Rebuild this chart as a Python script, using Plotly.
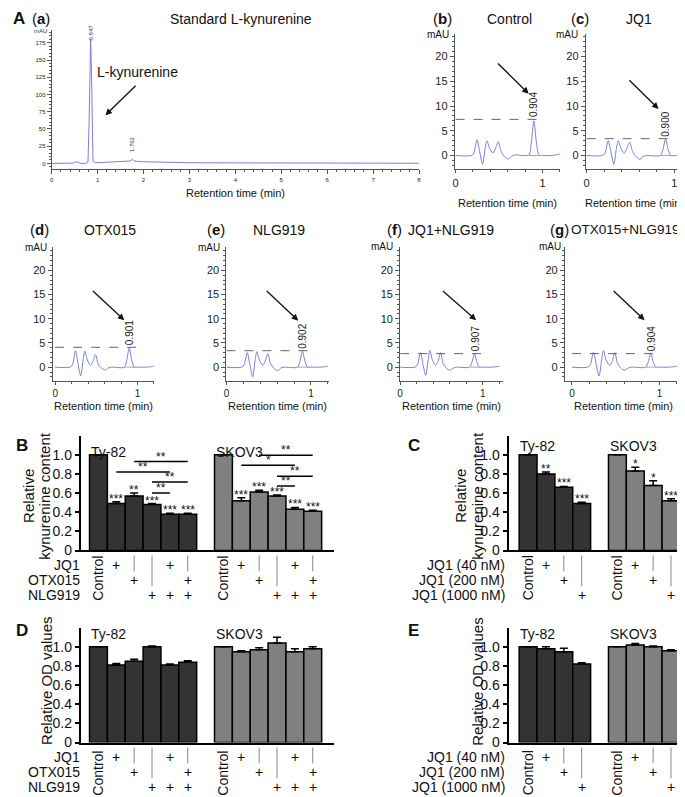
import plotly.graph_objects as go

W, H = 685, 797
FONT = "Liberation Sans, Arial, sans-serif"
TRACE = "#7b7fdc"
AXC = "#555555"

# ---------------- chromatogram data ----------------
std_time = [0, 0.2, 0.25, 0.3, 0.45, 0.5, 0.55, 0.6, 0.66, 0.75, 0.79, 0.815, 0.83, 0.847, 0.865, 0.88,
            0.9, 0.95, 1.1, 1.4, 1.6, 1.7, 1.74, 1.762, 1.79, 1.85, 2.0, 2.5, 3.0, 4.0, 5.0, 6.0, 7.0, 8.0]
std_mau = [0, 0, 1, 0, 0.5, 1.5, 2.5, 1, -0.5, 0.5, 2, 60, 150, 180, 140, 40,
           3, 1, 1.5, 3, 3.5, 3.5, 5, 6, 4, 3, 2.5, 1.5, 1, 0.8, 0.6, 0.5, 0.4, 0.3]
std_peak_rt = [0.847, 1.762]
std_peak_text = ["0.847", "1.762"]
std_peak_label_mau = [175, 13]

sample_time = [0, 0.18, 0.21, 0.246, 0.28, 0.31, 0.34, 0.36, 0.39, 0.43, 0.46, 0.49, 0.52, 0.55,
               0.58, 0.61, 0.64, 0.68, 0.84, 0.87, 0.9, 0.93, 0.96, 1.0, 1.1, 1.17, 1.2]
mau_control = [0, 0, 0.5, 3.2, 0.5, -1.8, 1.5, 3.0, 1.5, 0.5, 1.5, 2.8, 1.0, 0,
               -0.5, -0.7, -0.2, 0.1, 0.1, 2.5, 7.0, 2.5, 0.1, 0, 0, 0.2, 0.3]
mau_jq1 = [0, 0, 0.5, 3.0, 0.5, -1.8, 1.5, 3.0, 1.5, 0.5, 1.5, 2.7, 1.0, 0,
           -0.5, -0.8, -0.2, 0.0, 0.0, 1.2, 3.3, 1.2, 0.0, 0, 0, 0.2, 0.3]
mau_otx015 = [0, 0, 0.5, 3.4, 0.5, -1.8, 1.5, 3.3, 1.5, 0.4, 1.2, 2.6, 0.8, 0,
              -0.4, -0.6, -0.2, 0.0, 0.0, 1.5, 4.0, 1.5, 0.0, 0, 0, 0.1, 0.2]
mau_nlg919 = [0, 0, 0.5, 3.0, 0.3, -2.0, 1.5, 3.2, 1.5, 0.4, 1.3, 2.8, 0.8, 0,
              -0.5, -0.7, -0.2, 0.0, 0.0, 1.2, 3.3, 1.2, 0.0, 0, 0, 0.1, 0.2]
mau_jq1_nlg919 = [0, 0, 0.5, 3.0, 0.3, -1.7, 1.6, 3.5, 1.5, 0.4, 1.2, 3.0, 0.8, 0,
                  -0.5, -0.6, -0.2, 0.0, 0.0, 1.0, 2.8, 1.0, 0.0, 0, 0, 0.1, 0.2]
mau_otx015_nlg919 = [0, 0, 0.5, 3.1, 0.3, -1.8, 1.6, 3.4, 1.5, 0.4, 1.2, 3.0, 0.8, 0,
                     -0.5, -0.6, -0.2, 0.0, 0.0, 1.0, 2.8, 1.0, 0.0, 0, 0, 0.1, 0.2]

sample_titles = ["Control", "JQ1", "OTX015", "NLG919", "JQ1+NLG919", "OTX015+NLG919"]
sample_letters = ["b", "c", "d", "e", "f", "g"]
sample_rt_text = ["0.904", "0.900", "0.901", "0.902", "0.907", "0.904"]
sample_peak_rt = [0.904, 0.900, 0.901, 0.902, 0.907, 0.904]
sample_dash_level = [7.3, 3.4, 4.1, 3.4, 2.8, 2.8]
arrow_start_t = [0.47, 0.47, 0.44, 0.46, 0.50, 0.46]
arrow_start_mau = [18.9, 15.5, 16.0, 16.0, 16.0, 16.0]
arrow_end_t = [0.84, 0.82, 0.84, 0.85, 0.92, 0.83]
arrow_end_mau = [12.5, 9.4, 9.7, 9.6, 9.7, 9.7]

# ---------------- bar chart data ----------------
cell_lines = ["Ty-82", "SKOV3"]
combo_rows = ["JQ1", "OTX015", "NLG919"]
combo_jq1 = [0, 1, 0, 0, 1, 0]
combo_otx015 = [0, 0, 1, 0, 0, 1]
combo_nlg919 = [0, 0, 0, 1, 1, 1]

kyn_ty82 = [1.0, 0.49, 0.57, 0.48, 0.38, 0.38]
kyn_ty82_err = [0, 0.02, 0.03, 0.01, 0.01, 0.01]
kyn_ty82_sig = ["", "***", "**", "***", "***", "***"]
kyn_skov3 = [1.0, 0.52, 0.61, 0.57, 0.43, 0.41]
kyn_skov3_err = [0, 0.03, 0.02, 0.01, 0.02, 0.01]
kyn_skov3_sig = ["", "***", "***", "***", "***", "***"]

# pairwise comparisons in B: (from bar, to bar, height, label)
cmp_ty82_from = [2, 1, 3, 3]
cmp_ty82_to = [5, 4, 5, 4]
cmp_ty82_y = [0.93, 0.82, 0.715, 0.60]
cmp_ty82_sig = ["**", "**", "**", "**"]
cmp_skov3_from = [2, 1, 3, 3]
cmp_skov3_to = [5, 4, 5, 4]
cmp_skov3_y = [0.995, 0.89, 0.775, 0.675]
cmp_skov3_sig = ["**", "*", "**", "**"]

dose_rows = ["JQ1 (40 nM)", "JQ1 (200 nM)", "JQ1 (1000 nM)"]
dose_40 = [0, 1, 0, 0]
dose_200 = [0, 0, 1, 0]
dose_1000 = [0, 0, 0, 1]

kyn_dose_ty82 = [1.0, 0.80, 0.66, 0.49]
kyn_dose_ty82_err = [0, 0.02, 0.01, 0.015]
kyn_dose_ty82_sig = ["", "**", "***", "***"]
kyn_dose_skov3 = [1.0, 0.83, 0.68, 0.52]
kyn_dose_skov3_err = [0, 0.04, 0.05, 0.02]
kyn_dose_skov3_sig = ["", "*", "*", "***"]

od_ty82 = [1.0, 0.81, 0.85, 1.0, 0.81, 0.84]
od_ty82_err = [0, 0.015, 0.02, 0.01, 0.01, 0.015]
od_skov3 = [1.0, 0.95, 0.97, 1.04, 0.95, 0.98]
od_skov3_err = [0, 0.01, 0.02, 0.06, 0.03, 0.02]

od_dose_ty82 = [1.0, 0.98, 0.95, 0.82]
od_dose_ty82_err = [0, 0.02, 0.035, 0.015]
od_dose_skov3 = [1.0, 1.02, 1.0, 0.96]
od_dose_skov3_err = [0, 0.015, 0.01, 0.01]

group_colors = ["#333333", "#808080"]


def X(p):
    return p / W


def Y(p):
    return 1 - p / H


fig = go.Figure()
axes = {}
annotations = []
shapes = []


def ann(text, x, y, size, xref="paper", yref="paper", xanchor="center", yanchor="middle",
        angle=0, color="#111111", **kw):
    annotations.append(dict(text=text, x=x, y=y, xref=xref, yref=yref, xanchor=xanchor,
                            yanchor=yanchor, textangle=angle, showarrow=False,
                            font=dict(family=FONT, size=size, color=color), **kw))


def set_axes(n, xpx, ypx, xrange, yrange, xstyle, ystyle):
    xs = "x" if n == 1 else "x%d" % n
    ys = "y" if n == 1 else "y%d" % n
    axes["xaxis" if n == 1 else "xaxis%d" % n] = dict(
        domain=[X(xpx[0]), X(xpx[1])], range=xrange, anchor=ys, showgrid=False, zeroline=False, **xstyle)
    axes["yaxis" if n == 1 else "yaxis%d" % n] = dict(
        domain=[Y(ypx[1]), Y(ypx[0])], range=yrange, anchor=xs, showgrid=False, zeroline=False, **ystyle)
    return xs, ys


def chrom_style(size, ticks, minor, ticklen=4):
    return dict(showline=True, linecolor=AXC, linewidth=1, ticks="outside", ticklen=ticklen,
                tickcolor=AXC, tickwidth=1, tickvals=ticks,
                tickfont=dict(family=FONT, size=size, color="#222222"),
                minor=dict(ticks="outside", ticklen=2, dtick=minor, tick0=0, tickcolor=AXC, tickwidth=1))


# ---------------- (a) standard ----------------
xs, ys = set_axes(1, (41, 411), (22, 163), [0, 8], [-8.6, 194],
                  chrom_style(6, list(range(9)), 0.2), chrom_style(6, [0, 25, 50, 75, 100, 125, 150, 175], 5))
fig.add_trace(go.Scatter(x=std_time, y=std_mau, mode="lines", line=dict(color=TRACE, width=1),
                         xaxis=xs, yaxis=ys, showlegend=False, hoverinfo="skip"))
for rt, txt, ly in zip(std_peak_rt, std_peak_text, std_peak_label_mau):
    ann(txt, rt, ly, 6, xref=xs, yref=ys, yanchor="bottom", angle=-90, color="#333333")
ann("mAU", X(38), Y(23), 6, xanchor="right", color="#333333")
ann("Retention time (min)", X(226), Y(187), 11)
ann("L-kynurenine", 1.87, 132, 14, xref=xs, yref=ys)
annotations.append(dict(x=1.17, y=70, ax=1.86, ay=115, xref=xs, yref=ys, axref=xs, ayref=ys,
                        text="", showarrow=True, arrowhead=2, arrowsize=1, arrowwidth=1.3,
                        arrowcolor="#111111"))
ann("<b>A</b>", X(0), Y(11), 17, xanchor="left")
ann("(<b>a</b>)", X(19), Y(11), 15, xanchor="left")
ann("Standard L-kynurenine", X(158), Y(11), 14, xanchor="left")

# ---------------- (b)-(g) samples ----------------
sample_mau = [mau_control, mau_jq1, mau_otx015, mau_nlg919, mau_jq1_nlg919, mau_otx015_nlg919]
chrom_geom = [
    ((447, 553), (26, 163), [-0.01, 1.2], [-2.8, 24.6]),
    ((579, 685), (26, 163), [-0.01, 1.19], [-2.8, 24.6]),
    ((42, 144), (241, 377), [-0.03, 1.2], [-2.9, 24.9]),
    ((217, 320), (241, 377), [0, 1.21], [-2.9, 24.9]),
    ((392, 496), (241, 377), [0, 1.25], [-2.9, 24.9]),
    ((558, 685), (241, 377), [-0.08, 1.36], [-2.9, 24.9]),
]
letter_px = [(423, 11), (562, 11), (17, 224), (195, 224), (377, 224), (541, 224)]
title_px = [(477, 11), (618, 11), (72, 224), (242, 224), (398, 224), (562, 224)]
title_size = [14, 14, 14, 14, 14, 13.5]
mau_px = [(443, 27), (573, 27), (38, 242), (213, 242), (387, 241), (556, 241)]
xtitle_px = [(500, 197, "center"), (680, 197, "right"), (93, 402, "center"),
             (268, 402, "center"), (444, 402, "center"), (617, 402, "center")]

for i in range(6):
    xpx, ypx, xr, yr = chrom_geom[i]
    xs, ys = set_axes(i + 2, xpx, ypx, xr, yr, chrom_style(11 if i < 2 else 10, [0, 1], 0.2, 3),
                      chrom_style(11, [0, 5, 10, 15, 20], 1))
    fig.add_trace(go.Scatter(x=sample_time, y=sample_mau[i], mode="lines",
                             line=dict(color=TRACE, width=1, shape="spline", smoothing=0.8),
                             xaxis=xs, yaxis=ys, showlegend=False, hoverinfo="skip"))
    # integration baseline under the kynurenine peak
    fig.add_trace(go.Scatter(x=[sample_peak_rt[i] - 0.06, sample_peak_rt[i] + 0.07], y=[0, 0],
                             mode="lines", line=dict(color="#e889a8", width=1),
                             xaxis=xs, yaxis=ys, showlegend=False, hoverinfo="skip"))
    shapes.append(dict(type="line", xref=xs, yref=ys, x0=0, x1=0.99,
                       y0=sample_dash_level[i], y1=sample_dash_level[i],
                       line=dict(color="#666666", width=1, dash="dash")))
    ann(sample_rt_text[i], sample_peak_rt[i], sample_dash_level[i], 10, xref=xs, yref=ys,
        yanchor="bottom", angle=-90, color="#222222")
    annotations.append(dict(x=arrow_end_t[i], y=arrow_end_mau[i], ax=arrow_start_t[i],
                            ay=arrow_start_mau[i], xref=xs, yref=ys, axref=xs, ayref=ys,
                            text="", showarrow=True, arrowhead=2, arrowsize=1, arrowwidth=1.3,
                            arrowcolor="#111111"))
    ann("(<b>%s</b>)" % sample_letters[i], X(letter_px[i][0]), Y(letter_px[i][1]), 15, xanchor="left")
    ann(sample_titles[i], X(title_px[i][0]), Y(title_px[i][1]), title_size[i], xanchor="left")
    ann("mAU", X(mau_px[i][0]), Y(mau_px[i][1]), 10, xanchor="right")
    tx, ty, tanchor = xtitle_px[i]
    ann("Retention time (min)", X(tx), Y(ty), 11, xanchor=tanchor)


# ---------------- bar panels ----------------
def bar_style_y():
    return dict(showline=True, linecolor="black", linewidth=1.5, ticks="outside", ticklen=5,
                tickwidth=1.5, tickcolor="black", tickvals=[0, 0.2, 0.4, 0.6, 0.8, 1.0],
                ticktext=["0", "0.2", "0.4", "0.6", "0.8", "1.0"],
                tickfont=dict(family=FONT, size=14, color="#111111"))


def bar_style_x():
    return dict(showline=True, linecolor="black", linewidth=1.5, ticks="", showticklabels=False)


def bar_panel(n, xpx, ypx, xrange, positions, values, errors, sigs, row_names, flags,
              row_py, label_right, control_py, group_py):
    xs, ys = set_axes(n, xpx, ypx, xrange, [0, 1.2], bar_style_x(), bar_style_y())
    for g in range(2):
        fig.add_trace(go.Bar(x=positions[g], y=values[g], width=1,
                             marker=dict(color=group_colors[g], line=dict(color="black", width=1.5)),
                             error_y=dict(type="data", array=errors[g], arrayminus=[0] * len(errors[g]),
                                          symmetric=False, color="black", thickness=1.5, width=4),
                             xaxis=xs, yaxis=ys, showlegend=False, hoverinfo="skip"))
        ann(cell_lines[g], positions[g][0] - 0.55, Y(group_py), 14, xref=xs, xanchor="left")
        if sigs:
            for p, v, e, s in zip(positions[g], values[g], errors[g], sigs[g]):
                if s:
                    ann(s, p, v + e, 12, xref=xs, yref=ys, yanchor="middle", yshift=3)
        for k, p in enumerate(positions[g]):
            col = [f[k] for f in flags]
            if sum(col) == 0:
                ann("Control", p, Y(control_py), 14, xref=xs, angle=-90)
                continue
            first = col.index(1)
            if first > 0:
                shapes.append(dict(type="line", xref=xs, yref="paper", x0=p, x1=p,
                                   y0=Y(ypx[1] + 5), y1=Y(row_py[first] - 9),
                                   line=dict(color="#888888", width=1)))
            for r in range(len(flags)):
                if col[r]:
                    ann("+", p, Y(row_py[r]), 14, xref=xs, color="#000000")
    for r, name in enumerate(row_names):
        ann(name, X(label_right), Y(row_py[r]), 14, xanchor="right")
    return xs, ys


# B
pos6 = [[0, 1, 2, 3, 4, 5], [7, 8, 9, 10, 11, 12]]
combo_flags = [combo_jq1, combo_otx015, combo_nlg919]
xs, ys = bar_panel(8, (71, 325), (432, 548), [-0.95, 13.17], pos6,
                   [kyn_ty82, kyn_skov3], [kyn_ty82_err, kyn_skov3_err], [kyn_ty82_sig, kyn_skov3_sig],
                   combo_rows, combo_flags, [563, 578, 593], 72, 576, 448)
for g, (c_from, c_to, c_y, c_sig) in enumerate([(cmp_ty82_from, cmp_ty82_to, cmp_ty82_y, cmp_ty82_sig),
                                                 (cmp_skov3_from, cmp_skov3_to, cmp_skov3_y, cmp_skov3_sig)]):
    for a, b, yv, s in zip(c_from, c_to, c_y, c_sig):
        shapes.append(dict(type="line", xref=xs, yref=ys, x0=pos6[g][a], x1=pos6[g][b], y0=yv, y1=yv,
                           line=dict(color="black", width=1.5)))
        ann(s, (pos6[g][a] + pos6[g][b]) / 2, yv, 12, xref=xs, yref=ys, yanchor="middle", yshift=5)
ann("<b>B</b>", X(3), Y(442), 17, xanchor="left")
ann("Relative", X(17), Y(493), 15, angle=-90)
ann("kynurenine content", X(33), Y(493), 15, angle=-90)

# C
pos4 = [[0, 1, 2, 3], [5, 6, 7, 8]]
dose_flags = [dose_40, dose_200, dose_1000]
bar_panel(9, (502, 685), (432, 548), [-1.05, 9.12], pos4,
          [kyn_dose_ty82, kyn_dose_skov3], [kyn_dose_ty82_err, kyn_dose_skov3_err],
          [kyn_dose_ty82_sig, kyn_dose_skov3_sig],
          dose_rows, dose_flags, [563, 578, 593], 500, 576, 442)
ann("<b>C</b>", X(398), Y(442), 17, xanchor="left")
ann("Relative", X(452), Y(493), 15, angle=-90)
ann("kynurenine content", X(469), Y(493), 15, angle=-90)

# D
bar_panel(10, (71, 325), (626, 742), [-0.95, 13.17], pos6,
          [od_ty82, od_skov3], [od_ty82_err, od_skov3_err], None,
          combo_rows, combo_flags, [757, 772, 787], 72, 773, 632)
ann("<b>D</b>", X(3), Y(629), 17, xanchor="left")
ann("Relative OD values", X(35), Y(680), 15, angle=-90)

# E
bar_panel(11, (502, 685), (626, 742), [-1.05, 9.12], pos4,
          [od_dose_ty82, od_dose_skov3], [od_dose_ty82_err, od_dose_skov3_err], None,
          dose_rows, dose_flags, [757, 772, 787], 500, 773, 632)
ann("<b>E</b>", X(398), Y(629), 17, xanchor="left")
ann("Relative OD values", X(470), Y(681), 15, angle=-90)

fig.update_layout(
    width=W, height=H, margin=dict(l=0, r=0, t=0, b=0),
    paper_bgcolor="white", plot_bgcolor="white", showlegend=False, barmode="overlay",
    font=dict(family=FONT, color="#111111"),
    annotations=annotations, shapes=shapes, **axes
)

fig.write_html("out.html")
